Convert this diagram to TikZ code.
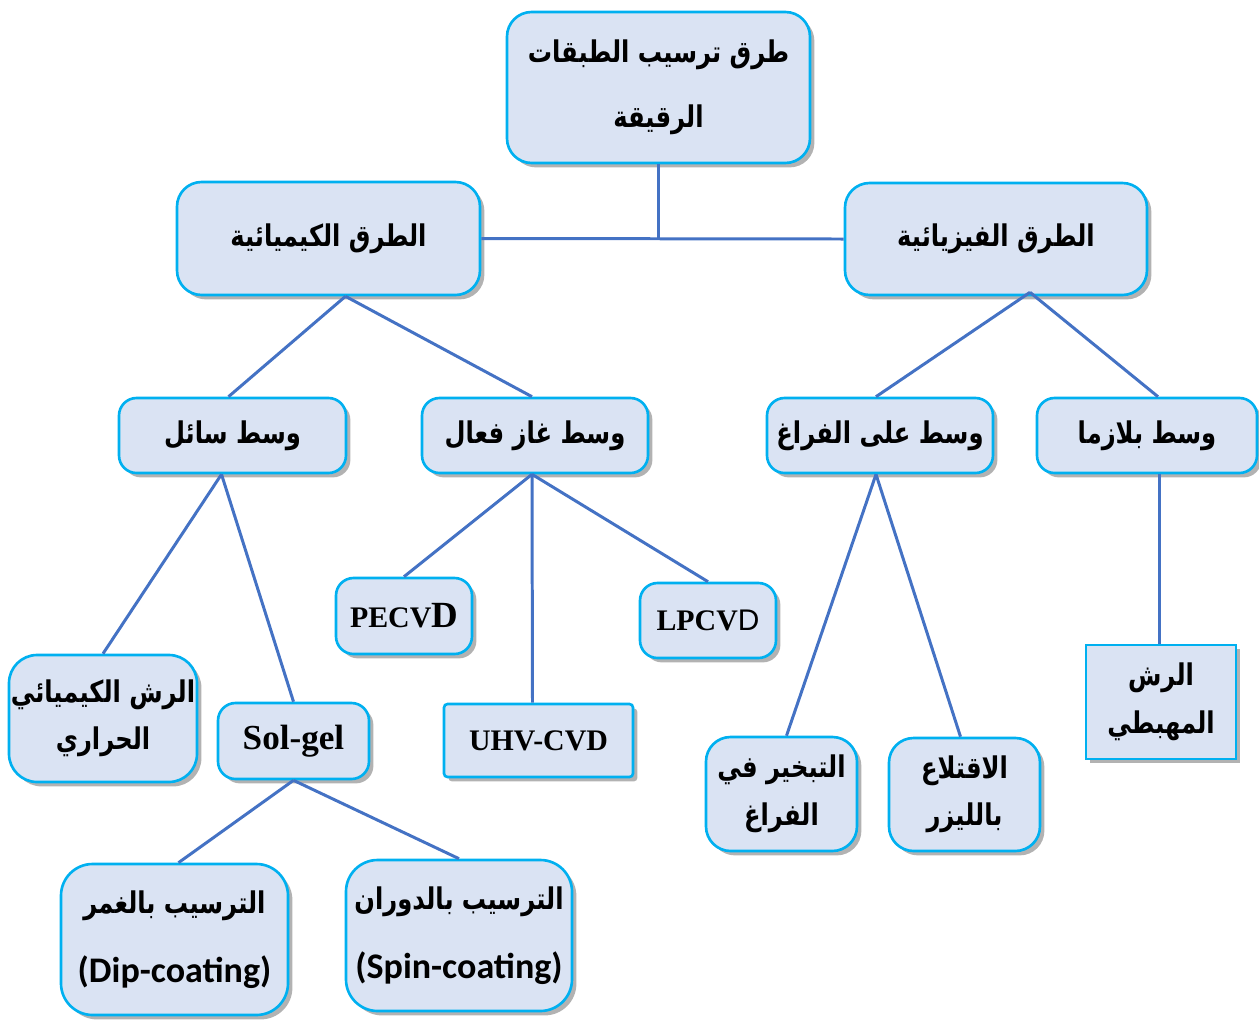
\documentclass[tikz,border=0pt]{standalone}
\usepackage{fontspec}
\setmainfont{Liberation Serif}
\newfontfamily\arabicfont[Script=Arabic,FakeStretch=0.81]{DejaVu Sans}
\newfontfamily\calfont{Carlito}
\newfontfamily\arialfont{Liberation Sans}
\TeXXeTstate=1
\usetikzlibrary{shadows}
\definecolor{boxfill}{HTML}{DAE3F3}
\definecolor{boxline}{HTML}{00B0F0}
\definecolor{linkblue}{HTML}{4472C4}
\newcommand{\ar}[1]{{\arabicfont\bfseries\beginR #1\endR}}
\newcommand{\pxu}{0.02cm}

\begin{document}
\begin{tikzpicture}[x=\pxu,y=-\pxu,
  box/.style 2 args={draw=boxline,line width=1.5pt,fill=boxfill,rounded corners=10pt,
    minimum width=#1*\pxu,minimum height=#2*\pxu,inner sep=0pt,align=center,
    font=\fontsize{17}{27}\selectfont,
    drop shadow={shadow xshift=2.5pt,shadow yshift=-2.5pt,opacity=0.3,fill=black}},
  latin/.style={font=\fontsize{17}{20}\selectfont\bfseries},
  link/.style={draw=linkblue,line width=1.7pt}]
\useasboundingbox (0,0) rectangle (1259,1019);

% top levels
\node[box={303}{151},rounded corners=14pt] (title) at (658.5,87.5) {\ar{طرق ترسيب الطبقات}\\[10pt]\ar{الرقيقة}};
\node[box={303}{113},rounded corners=14pt] (chem) at (328.5,238.5) {\ar{الطرق الكيميائية}};
\node[box={302}{112},rounded corners=14pt] (phys) at (996,239) {\ar{الطرق الفيزيائية}};

% media
\node[box={227}{75}] (liquid) at (232.5,435.5) {\ar{وسط سائل}};
\node[box={226}{75}] (gas) at (535,435.5) {\ar{وسط غاز فعال}};
\node[box={226}{75}] (vacuum) at (880,435.5) {\ar{وسط على الفراغ}};
\node[box={220}{75}] (plasma) at (1147,435.5) {\ar{وسط بلازما}};

% techniques
\node[box={188}{127},rounded corners=16pt] (spray) at (103,718.5) {\ar{الرش الكيميائي}\\\ar{الحراري}};
\node[box={151}{76},font=\fontsize{20}{24}\selectfont\bfseries] (solgel) at (293.5,741) {Sol-gel};
\node[box={136}{76},latin] (pecvd) at (404,616) {PECV{\fontsize{21}{24}\selectfont D}};
\node[box={189}{73},latin,rounded corners=2pt] (uhv) at (538.5,740.5) {UHV-CVD};
\node[box={136}{75},latin] (lpcvd) at (708,620.5) {LPCV{\arialfont\mdseries D}};
\node[box={151}{114},rounded corners=14pt] (evap) at (781.5,794) {\ar{التبخير في}\\\ar{الفراغ}};
\node[box={151}{113},rounded corners=14pt] (laser) at (964.5,794.5) {\ar{الاقتلاع}\\\ar{بالليزر}};
\node[box={150}{114},rounded corners=0pt] (sputter) at (1161,702) {\ar{الرش}\\\ar{المهبطي}};
\node[box={227}{151},rounded corners=18pt] (dip) at (174.5,939.5) {\ar{الترسيب بالغمر}\\[12pt]{\calfont\bfseries\fontsize{20.5}{24}\selectfont (Dip-coating)}};
\node[box={226}{151},rounded corners=18pt] (spin) at (459,935.5) {\ar{الترسيب بالدوران}\\[12pt]{\calfont\bfseries\fontsize{20.5}{24}\selectfont (Spin-coating)}};

% connectors
\coordinate (joint) at (title.south |- chem.east);
\draw[link] (title.south) -- (joint);
\draw[link] (chem.east) -- (phys.west);
\draw[link] ([xshift=17*\pxu]chem.south) -- ([xshift=-4*\pxu]liquid.north);
\draw[link] ([xshift=17*\pxu]chem.south) -- ([xshift=-3*\pxu]gas.north);
\draw[link] ([xshift=34*\pxu,yshift=4*\pxu]phys.south) -- ([xshift=-4*\pxu]vacuum.north);
\draw[link] ([xshift=34*\pxu,yshift=4*\pxu]phys.south) -- ([xshift=11*\pxu]plasma.north);
\draw[link] ([xshift=-11*\pxu]liquid.south) -- (spray.north);
\draw[link] ([xshift=-11*\pxu]liquid.south) -- (solgel.north);
\draw[link] ([xshift=-3*\pxu]gas.south) -- (pecvd.north);
\draw[link] ([xshift=-3*\pxu]gas.south) -- ([xshift=-6*\pxu]uhv.north);
\draw[link] ([xshift=-3*\pxu]gas.south) -- (lpcvd.north);
\draw[link] ([xshift=-4*\pxu]vacuum.south) -- ([xshift=5*\pxu]evap.north);
\draw[link] ([xshift=-4*\pxu]vacuum.south) -- ([xshift=-4*\pxu]laser.north);
\draw[link] ([xshift=12*\pxu]plasma.south) -- ([xshift=-2*\pxu]sputter.north);
\draw[link] (solgel.south) -- ([xshift=4*\pxu]dip.north);
\draw[link] (solgel.south) -- (spin.north);
\end{tikzpicture}
\end{document}
